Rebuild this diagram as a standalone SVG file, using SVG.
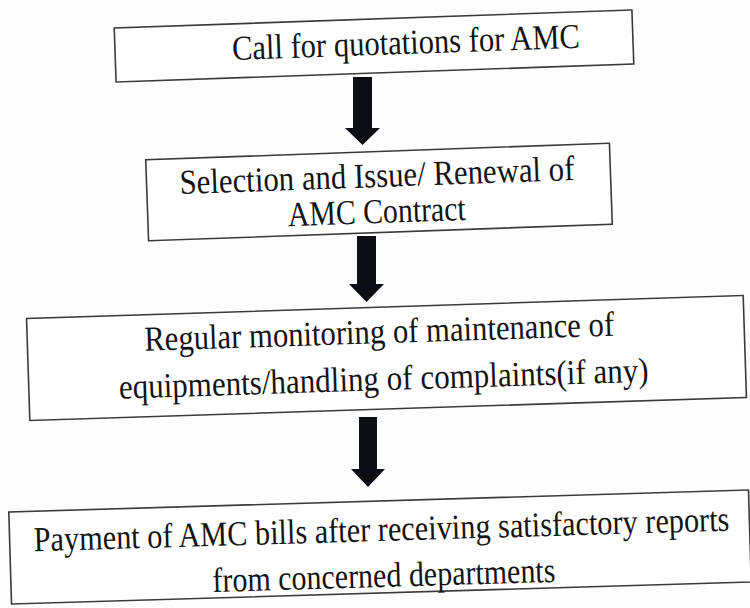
<svg xmlns="http://www.w3.org/2000/svg" width="750" height="608" viewBox="0 0 750 608">
<style>
.box{fill:#ffffff;stroke:#3a3a3a;stroke-width:1.6}
.t{font-family:"Liberation Serif","Times New Roman","DejaVu Serif",serif;font-size:35px;fill:#141414;text-anchor:middle}
.arr{fill:#0d0d14}
</style>
<rect width="750" height="608" fill="#fdfdfd"/>
<g id="connectors">
<path class="arr" d="M353,77 H372 V128 H380 L362.5,145 L345,128 H353 Z"/>
<path class="arr" d="M357,236 H376 V284 H384 L366.5,302 L349,284 H357 Z"/>
<path class="arr" d="M359,417 H377 V469 H385 L368,487 L351,469 H359 Z"/>
</g>
<g id="node1" transform="rotate(-2 374 46)">
<rect class="box" x="115" y="19" width="518" height="54"/>
<text class="t" x="406" y="55" textLength="348" lengthAdjust="spacingAndGlyphs">Call for quotations for AMC</text>
</g>
<g id="node2" transform="rotate(-2.05 379 192)">
<rect class="box" x="147" y="151.5" width="464" height="81"/>
<text class="t" x="377.5" y="187" textLength="395" lengthAdjust="spacingAndGlyphs">Selection and Issue/ Renewal of</text>
<text class="t" x="376" y="223" textLength="178" lengthAdjust="spacingAndGlyphs">AMC Contract</text>
</g>
<g id="node3" transform="rotate(-1.85 386.5 358)">
<rect class="box" x="28" y="307" width="717" height="102"/>
<text class="t" x="380" y="343" textLength="470" lengthAdjust="spacingAndGlyphs">Regular monitoring of maintenance of</text>
<text class="t" x="383" y="390" textLength="530" lengthAdjust="spacingAndGlyphs">equipments/handling of complaints(if any)</text>
</g>
<g id="node4" transform="rotate(-1.7 380 547)">
<rect class="box" x="10" y="501" width="740" height="92"/>
<text class="t" x="382" y="541" textLength="696" lengthAdjust="spacingAndGlyphs">Payment of AMC bills after receiving satisfactory reports</text>
<text class="t" x="383" y="587" textLength="343" lengthAdjust="spacingAndGlyphs">from concerned departments</text>
</g>
</svg>
